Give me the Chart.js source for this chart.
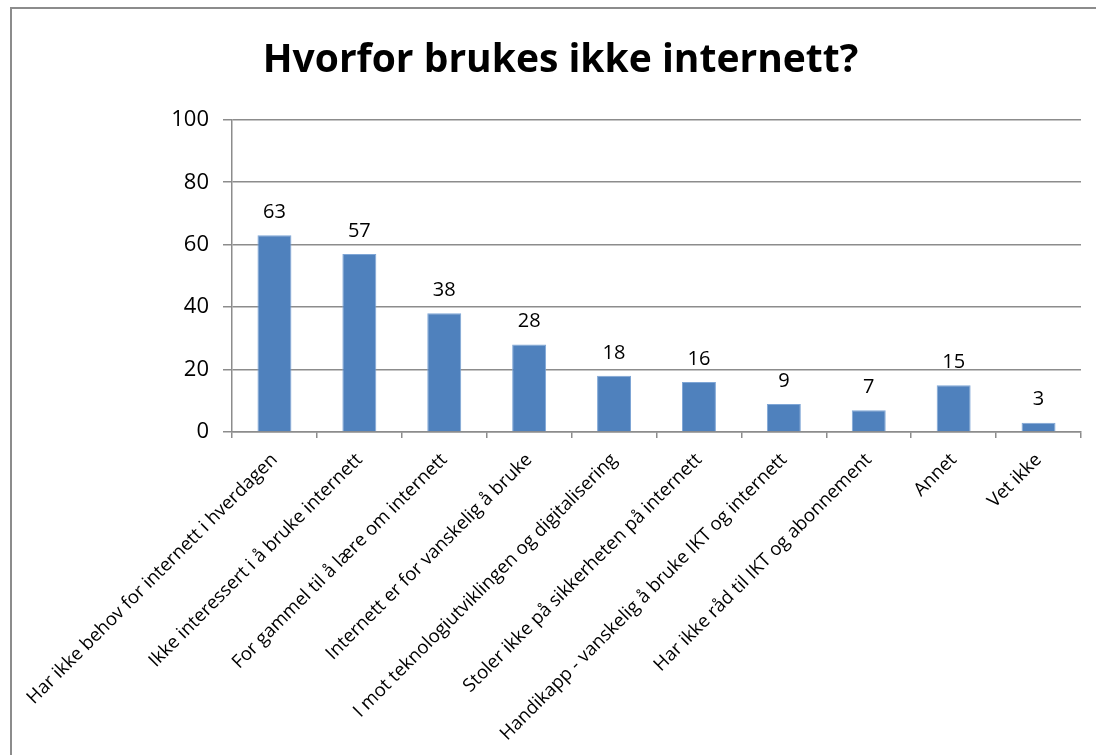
<!DOCTYPE html>
<html>
<head>
<meta charset="utf-8">
<script src="https://cdn.jsdelivr.net/npm/chart.js@4"></script>
<style>
  body { margin: 0; background: #fff; overflow: hidden; }
  #frame {
    position: absolute; left: 10px; top: 7px;
    width: 1200px; height: 900px;
    border: 2px solid #8c8c8c;
  }
  #chart { position: absolute; left: 0; top: 0; }
</style>
</head>
<body>
<div id="frame"></div>
<canvas id="chart" width="1096" height="755"></canvas>
<script>
const categories = [
  "Har ikke behov for internett i hverdagen",
  "Ikke interessert i å bruke internett",
  "For gammel til å lære om internett",
  "Internett er for vanskelig å bruke",
  "I mot teknologiutviklingen og digitalisering",
  "Stoler ikke på sikkerheten på internett",
  "Handikapp - vanskelig å bruke IKT og internett",
  "Har ikke råd til IKT og abonnement",
  "Annet",
  "Vet ikke"
];
const values = [63, 57, 38, 28, 18, 16, 9, 7, 15, 3];
const yTicks = [0, 20, 40, 60, 80, 100];

const FONT = "'Open Sans', sans-serif";
const GRID = "#8c8c8c";

// value above each bar
const barValues = {
  id: "barValues",
  afterDatasetsDraw(chart) {
    const ctx = chart.ctx;
    const meta = chart.getDatasetMeta(0);
    ctx.save();
    ctx.font = "20px " + FONT;
    ctx.fillStyle = "#000";
    ctx.textAlign = "center";
    ctx.textBaseline = "middle";
    meta.data.forEach((bar, i) => {
      ctx.fillText(String(values[i]), bar.x, bar.y - 23);
    });
    ctx.restore();
  }
};

new Chart("chart", {
  type: "bar",
  data: {
    labels: categories,
    datasets: [{
      data: values,
      backgroundColor: "#4f81bd",
      borderColor: "#7fa6d6",
      borderWidth: 1,
      barPercentage: 1,
      categoryPercentage: 0.4
    }]
  },
  options: {
    responsive: false,
    animation: false,
    layout: { padding: { left: 40, right: 15, top: 0, bottom: 0 } },
    plugins: {
      legend: { display: false },
      tooltip: { enabled: false },
      title: {
        display: true,
        text: "Hvorfor brukes ikke internett?",
        color: "#000",
        font: { family: FONT, size: 39, weight: "bold", lineHeight: 1.2 },
        padding: { top: 37, bottom: 36 }
      }
    },
    scales: {
      y: {
        min: 0,
        max: 100,
        afterBuildTicks(scale) {
          scale.ticks = yTicks.map(v => ({ value: v }));
        },
        afterFit(scale) { scale.width = 192; },
        ticks: {
          color: "#000",
          padding: 14,
          font: { family: FONT, size: 22 }
        },
        grid: { color: GRID, lineWidth: 1.5, tickLength: 9 },
        border: { color: GRID, width: 1.5 }
      },
      x: {
        afterFit(scale) { scale.height = 323; },
        ticks: {
          color: "#000",
          autoSkip: false,
          minRotation: 45,
          maxRotation: 45,
          padding: 11,
          font: { family: FONT, size: 18.5 }
        },
        grid: { drawOnChartArea: false, color: GRID, lineWidth: 1.5, tickLength: 6, offset: true },
        border: { color: GRID, width: 1.5 }
      }
    }
  },
  plugins: [barValues]
});
</script>
</body>
</html>
